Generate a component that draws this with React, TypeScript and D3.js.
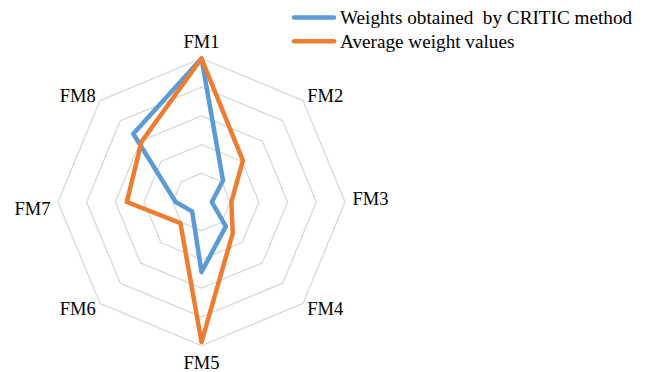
import React from "react";
import * as d3 from "d3";

const categories = ["FM1", "FM2", "FM3", "FM4", "FM5", "FM6", "FM7", "FM8"];
const criticWeights = [0.25, 0.053, 0.018, 0.06, 0.122, 0.023, 0.045, 0.168];
const averageWeights = [0.25, 0.102, 0.052, 0.077, 0.244, 0.052, 0.13, 0.148];
const gridTicks = [0.05, 0.1, 0.15, 0.2, 0.25];
const seriesNames = ["Weights obtained  by CRITIC method", "Average weight values"];
const seriesColors = ["#5B9BD5", "#ED7D31"];

const W = 648;
const H = 372;
const cx = 201.5;
const cy = 202;
const R = 143.5;
const FONT = "'Liberation Serif', 'Times New Roman', serif";

export default function App() {
  const r = d3.scaleLinear().domain([0, 0.25]).range([0, R]);
  const angle = d3
    .scalePoint<string>()
    .domain(categories)
    .range([0, 2 * Math.PI * (1 - 1 / categories.length)]);

  const radial = d3
    .lineRadial<number>()
    .angle((_, i) => angle(categories[i]) as number)
    .radius((v) => r(v))
    .curve(d3.curveLinearClosed);

  const ring = (v: number) => radial(categories.map(() => v)) || "";

  const labels = categories.map((c) => {
    const a = angle(c) as number;
    const s = Math.sin(a);
    const co = Math.cos(a);
    const vx = cx + R * s;
    const vy = cy - R * co;
    const anchor = s > 0.1 ? "start" : s < -0.1 ? "end" : "middle";
    const dx = Math.abs(s) > 0.9 ? s * 7.5 : s * 6;
    const yc = vy - Math.sign(co) * (Math.abs(co) > 0.9 ? 17 : 5) + (Math.abs(co) < 0.1 ? 1 : 0);
    return { c, x: vx + dx, y: yc + 6.5, anchor };
  });

  const series = [criticWeights, averageWeights];

  return (
    <svg
      width={W}
      height={H}
      style={{ position: "absolute", left: 0, top: 0, background: "#fff" }}
    >
      <g transform={`translate(${cx},${cy})`}>
        {gridTicks.map((t) => (
          <path key={t} d={ring(t)} fill="none" stroke="#D9D9D9" strokeWidth={1.3} />
        ))}
        {series.map((vals, k) => (
          <path
            key={k}
            d={radial(vals) || ""}
            fill="none"
            stroke={seriesColors[k]}
            strokeWidth={4.5}
            strokeLinejoin="round"
          />
        ))}
      </g>
      {labels.map((l) => (
        <text
          key={l.c}
          x={l.x}
          y={l.y}
          textAnchor={l.anchor}
          fontFamily={FONT}
          fontSize={18.5}
          fill="#000"
        >
          {l.c}
        </text>
      ))}
      {seriesNames.map((name, k) => (
        <g key={name} transform={`translate(0,${k * 23.7})`}>
          <line
            x1={294}
            x2={334}
            y1={17.5}
            y2={17.5}
            stroke={seriesColors[k]}
            strokeWidth={4.5}
            strokeLinecap="round"
          />
          <text
            x={340}
            y={24.2}
            fontFamily={FONT}
            fontSize={19.2}
            fill="#000"
            style={{ whiteSpace: "pre" }}
          >
            {name}
          </text>
        </g>
      ))}
    </svg>
  );
}
